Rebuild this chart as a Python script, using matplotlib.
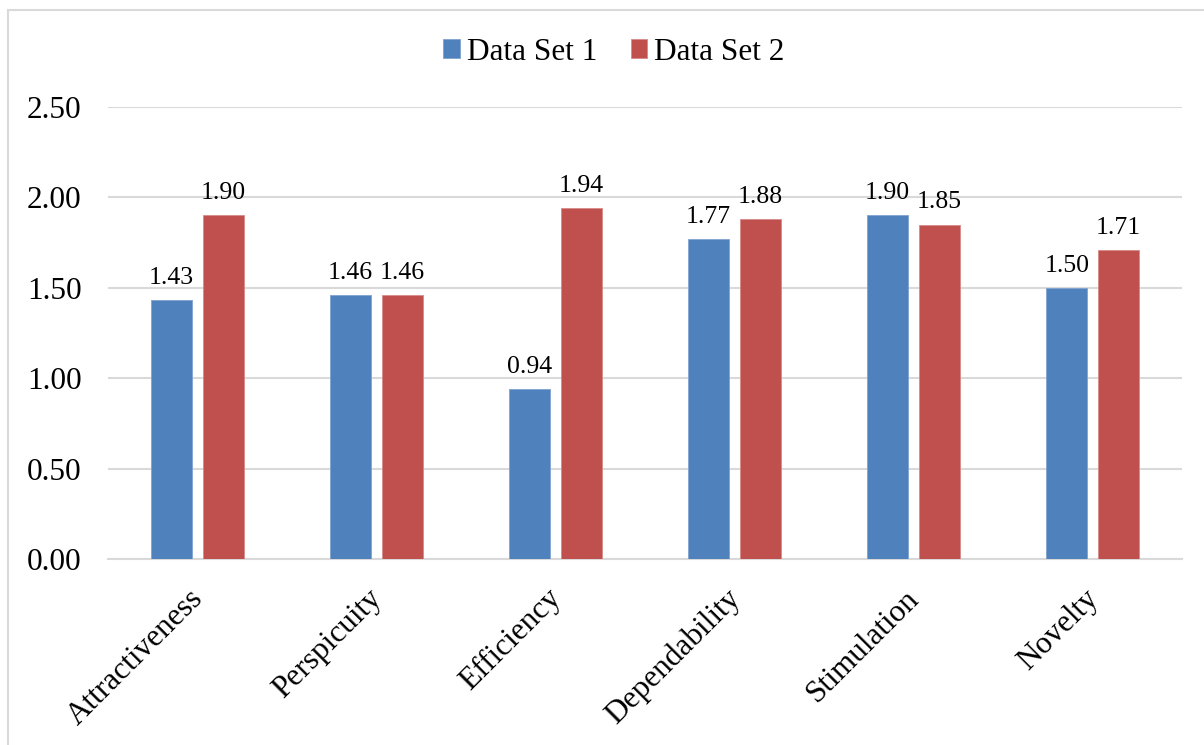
import matplotlib
matplotlib.use("Agg")
import matplotlib.pyplot as plt
from matplotlib.patches import Rectangle
from matplotlib.transforms import ScaledTranslation
import numpy as np

categories = ["Attractiveness", "Perspicuity", "Efficiency", "Dependability", "Stimulation", "Novelty"]
set1 = [1.43, 1.46, 0.94, 1.77, 1.90, 1.50]
set2 = [1.90, 1.46, 1.94, 1.88, 1.85, 1.71]
series_names = ["Data Set 1", "Data Set 2"]
yticks = [0.0, 0.5, 1.0, 1.5, 2.0, 2.5]

BLUE = "#4F81BD"
RED = "#C0504D"
GRID = "#D9D9D9"

plt.rcParams["font.family"] = ["Liberation Serif", "DejaVu Serif"]

fig = plt.figure(figsize=(12.04, 7.45), dpi=100)
ax = fig.add_axes([108 / 1204, 1 - 559 / 745, (1182 - 108) / 1204, (559 - 107) / 745])

# chart-area border
fig.patches.append(Rectangle((8 / 1204, -0.05), 1.2, 1 - 10 / 745 + 0.05,
                             transform=fig.transFigure, fill=False,
                             edgecolor=GRID, linewidth=1.5, zorder=0))

x = np.arange(len(categories))
width = 0.229
offset = 0.144
b1 = ax.bar(x - offset, set1, width, color=BLUE, edgecolor="#7FA3D0", linewidth=0.6,
            label=series_names[0], zorder=3)
b2 = ax.bar(x + offset, set2, width, color=RED, edgecolor="#D68A88", linewidth=0.6,
            label=series_names[1], zorder=3)

for bars, vals in ((b1, set1), (b2, set2)):
    for rect, v in zip(bars, vals):
        ax.annotate(f"{v:.2f}", (rect.get_x() + rect.get_width() / 2, v),
                    xytext=(0, 8), textcoords="offset points",
                    ha="center", va="bottom", fontsize=18.5, color="black")

ax.set_xlim(-0.5, len(categories) - 0.5)
ax.set_ylim(0, 2.5)
ax.set_yticks(yticks)
ax.set_yticklabels([f"{t:.2f}" for t in yticks], fontsize=22.5)
ax.set_xticks(x)
ax.set_xticklabels(categories, fontsize=22.5, rotation=45, ha="right",
                   rotation_mode="anchor")
ax.tick_params(axis="y", length=0, pad=19)
ax.tick_params(axis="x", length=0, pad=18)

shift = ScaledTranslation(-9 / 100, 0, fig.dpi_scale_trans)
for lbl in ax.get_xticklabels():
    lbl.set_transform(lbl.get_transform() + shift)

ax.yaxis.grid(True, color=GRID, linewidth=1.5, zorder=0)
ax.set_axisbelow(True)
for side in ("top", "right", "left"):
    ax.spines[side].set_visible(False)
ax.spines["bottom"].set_color(GRID)
ax.spines["bottom"].set_linewidth(1.5)

fig.legend(handles=[b1, b2], labels=series_names, loc="center",
           bbox_to_anchor=(614 / 1204, 1 - 52 / 745), ncol=2, frameon=False,
           fontsize=22.5, handlelength=0.54, handleheight=0.54,
           handletextpad=0.22, columnspacing=1.06)

fig.savefig("out.png", dpi=100)
